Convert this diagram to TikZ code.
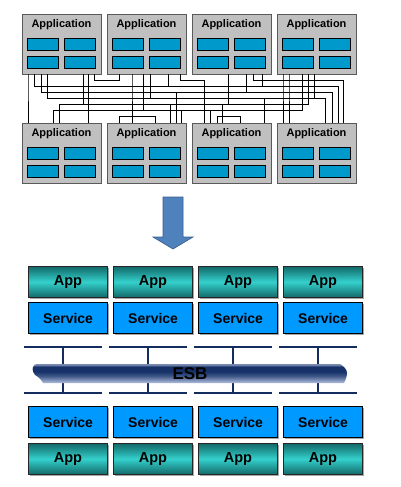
\documentclass[tikz,border=0pt]{standalone}
\usepackage{fontspec}
\setmainfont{Liberation Sans}
\usetikzlibrary{calc,shadows}
\definecolor{appgray}{RGB}{192,192,192}
\definecolor{appedge}{RGB}{90,90,90}
\definecolor{modblue}{RGB}{0,153,204}
\definecolor{svcblue}{RGB}{0,153,255}
\definecolor{tealdark}{RGB}{18,105,105}
\definecolor{teallight}{RGB}{52,208,204}
\definecolor{esbline}{RGB}{20,45,95}
\definecolor{esbtop}{RGB}{120,138,175}
\definecolor{esbmid}{RGB}{22,50,105}
\definecolor{esbbot}{RGB}{165,180,212}
\definecolor{arrowfill}{RGB}{79,129,189}
\definecolor{arrowedge}{RGB}{56,93,138}
\pgfdeclareverticalshading{esbshade}{100bp}{color(0bp)=(esbbot); color(27bp)=(esbbot); color(43bp)=(esbmid!70!esbbot); color(55bp)=(esbmid); color(68bp)=(esbmid); color(73bp)=(esbtop); color(100bp)=(esbtop)}
\newcommand\mlink[7]{\draw[meshline] ($(#1.#2 west)+(#3,0)$) coordinate (ms) -- (ms |- L#4) -| ($(#5.#6 west)+(#7,0)$);}
\begin{document}
\begin{tikzpicture}[x=1pt,y=-1pt,
  appbox/.style={draw=appedge, fill=appgray, line width=0.8pt, minimum width=79pt, minimum height=60pt, anchor=north west, inner sep=0pt, outer sep=0pt},
  apptitle/.style={font=\bfseries\fontsize{11}{12}\selectfont, inner sep=0pt},
  module/.style={draw=black, fill=modblue, line width=1.2pt, minimum width=31pt, minimum height=12pt, anchor=north west, inner sep=0pt},
  meshline/.style={draw=black, line width=0.6pt},
  shadowed/.style={drop shadow={shadow xshift=1.3pt, shadow yshift=-1.3pt, fill=black!35, opacity=1}},
  appnode/.style={shadowed, draw=black!85, line width=0.8pt, top color=tealdark, bottom color=tealdark, middle color=teallight, minimum width=79pt, minimum height=31pt, anchor=north west, inner sep=0pt, font=\bfseries\fontsize{14.5}{15}\selectfont},
  svcnode/.style={shadowed, draw=black, fill=svcblue, line width=1.2pt, minimum width=79pt, minimum height=31pt, anchor=north west, inner sep=0pt, font=\bfseries\fontsize{14}{15}\selectfont},
  esbseg/.style={draw=esbline, line width=1.8pt}
]
\useasboundingbox (0,0) rectangle (400,487);
\fill[white] (0,0) rectangle (400,487);

% ---------- top: point-to-point applications ----------
\foreach \i/\x in {1/22,2/107,3/192,4/277}{
  \node[appbox] (t\i) at (\x,14) {};
  \node[apptitle] (t\i title) at ($(t\i.north)+(0,11)$) {Application};
  \node[module] (t\i m1) at ($(t\i.north west)+(5,24)$) {};
  \node[module] (t\i m2) at ($(t\i.north west)+(42,24)$) {};
  \node[module] (t\i m3) at ($(t\i.north west)+(5,42)$) {};
  \node[module] (t\i m4) at ($(t\i.north west)+(42,42)$) {};
  \node[appbox] (b\i) at (\x,123) {};
  \node[apptitle] (b\i title) at ($(b\i.north)+(0,11)$) {Application};
  \node[module] (b\i m1) at ($(b\i.north west)+(5,24)$) {};
  \node[module] (b\i m2) at ($(b\i.north west)+(42,24)$) {};
  \node[module] (b\i m3) at ($(b\i.north west)+(5,42)$) {};
  \node[module] (b\i m4) at ($(b\i.north west)+(42,42)$) {};
}
\foreach \l in {80,86,92,98,104,110,116}{\coordinate (L\l) at (0,\l);}

% mesh of point-to-point links
\mlink{t1}{south}{6}{80}{b1}{north}{6}
\mlink{t4}{south}{12}{80}{b4}{north}{12}
\mlink{t4}{south}{6}{80}{b4}{north}{6}
\mlink{t2}{south}{25}{80}{b2}{north}{25}
\mlink{t1}{south}{72}{80}{t2}{south}{12}
\mlink{t2}{south}{73}{80}{b3}{north}{12}
\mlink{t3}{south}{61}{80}{b4}{north}{66}
\mlink{t1}{south}{12}{86}{b4}{north}{61}
\mlink{t2}{south}{61}{86}{t3}{south}{70}
\mlink{t1}{south}{19}{92}{b4}{north}{55}
\mlink{t3}{south}{54}{92}{b2}{north}{69}
\mlink{t1}{south}{25}{98}{b4}{north}{48}
\mlink{t2}{south}{43}{98}{b1}{north}{66}
\mlink{t4}{south}{37}{98}{b3}{north}{72}
\mlink{t4}{south}{31}{104}{b1}{north}{37}
\mlink{t3}{south}{36}{104}{b2}{north}{63}
\mlink{t1}{south}{61}{104}{b3}{north}{30}
\mlink{t4}{south}{25}{110}{b1}{north}{31}
\mlink{t2}{south}{36}{110}{b3}{north}{18}
\mlink{t1}{south}{66}{110}{b2}{north}{74}
\mlink{b2}{north}{12}{116}{b2}{north}{48}
\mlink{b3}{north}{25}{116}{b3}{north}{48}

% ---------- arrow ----------
\filldraw[fill=arrowfill, draw=arrowedge, line width=0.6pt]
  (163,197) -- (183,197) -- (183,237) -- (193,237) -- (173,249) -- (153,237) -- (163,237) -- cycle;

% ---------- bottom: ESB ----------
\foreach \i/\x in {1/28,2/113,3/198,4/283}{
  \node[appnode] (ua\i) at (\x,266) {App};
  \node[svcnode] (us\i) at (\x,302) {Service};
  \node[svcnode] (ls\i) at (\x,406) {Service};
  \node[appnode] (la\i) at (\x,443) {App};
}
\foreach \a in {24,109,194,279}{
  \draw[esbseg] (\a,347) -- (\a+78,347);
  \draw[esbseg] (\a,393) -- (\a+78,393);
  \draw[esbseg] (\a+39,347) -- (\a+39,393);
}
\path[shading=esbshade]
  (37,364) -- (340,364) .. controls (344,366) and (347,370) .. (347,373)
  .. controls (347,377) and (345,381) .. (344,383) -- (43,383)
  .. controls (41,380) and (40,378) .. (38,377)
  .. controls (33,375) and (32,369) .. (33,367)
  .. controls (34,365) and (35,364) .. (37,364) -- cycle;
\node[font=\bfseries\fontsize{17}{17}\selectfont, inner sep=0pt] (esb) at (190,374) {ESB};
\end{tikzpicture}
\end{document}
